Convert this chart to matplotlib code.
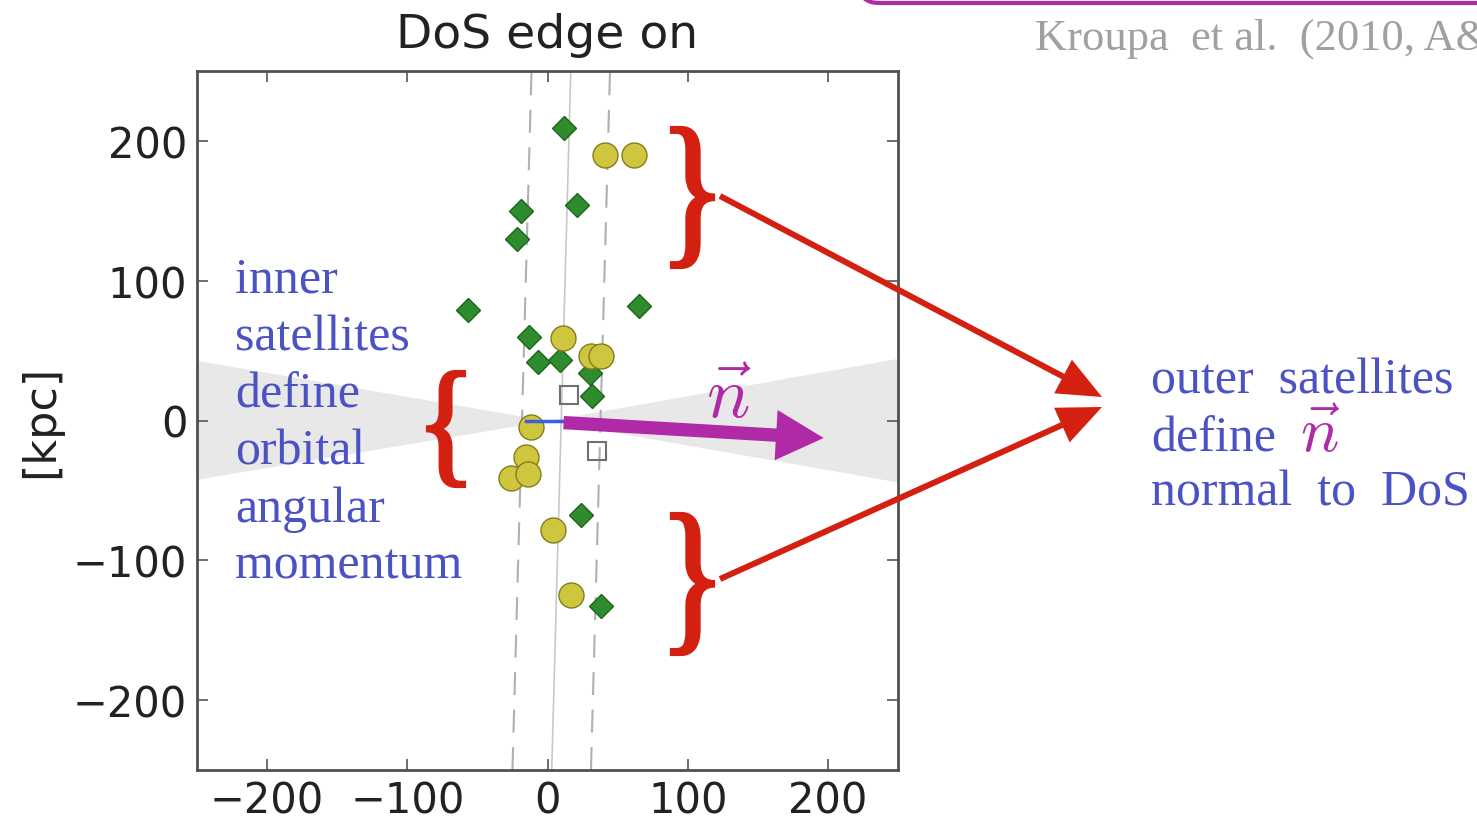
import matplotlib
matplotlib.use("Agg")
import numpy as np
import matplotlib.pyplot as plt
from matplotlib.patches import FancyArrow, FancyBboxPatch, PathPatch
from matplotlib.textpath import TextPath
from matplotlib.font_manager import FontProperties
from matplotlib.transforms import Affine2D

plt.rcParams["mathtext.fontset"] = "cm"

# satellite positions, edge-on view of the disc of satellites [kpc]
green_x = [12, -19, 21, -22, -57, 65, -13, -7, 9, 30, 32, 24, 38]
green_y = [209, 150, 154, 130, 79, 82, 60, 42, 43, 34, 17.5, -67.5, -133]
yellow_x = [41, 62, 11, 31, 38, -12, -15, -26, -14, 4, 17]
yellow_y = [190, 190, 59, 46, 46, -5, -26, -41, -38, -78, -125]
square_x = [15, 35]
square_y = [18, -22]

# best-fit plane (solid) and its rms height (dashed), x at y = -250 / +250
plane_y = [-250, 250]
plane_x = [3, 16.6]
plane_rms = 28

# obscured wedge around the galactic disc
wedge_x = [-250, 0, 250]
wedge_hi = [43, 0, 44.5]
wedge_lo = [-42, 0, -44]

# orbital pole of the inner satellites and the DoS normal
pole_x = [-15, 12]
pole_y = [-0.5, -0.5]
normal_start = (11.5, -1.5)
normal_end = (197, -12.5)

xticks = [-200, -100, 0, 100, 200]
yticks = [-200, -100, 0, 100, 200]

RED = "#d32011"
BLUE = "#4a52c4"
PURPLE = "#b02aa8"

fig = plt.figure(figsize=(14.77, 8.2), dpi=100)
ax = fig.add_axes([197 / 1477, 49 / 820, 701 / 1477, 699 / 820])

ax.fill_between(wedge_x, wedge_lo, wedge_hi, color="#e8e8e8", lw=0, zorder=0)
ax.plot(plane_x, plane_y, color="#c8c8c8", lw=1.2, zorder=1)
for s in (-1, 1):
    ax.plot([v + s * plane_rms for v in plane_x], plane_y, color="#b0b0b0",
            lw=1.5, ls=(0, (11, 7)), zorder=1)

ax.plot(green_x, green_y, "D", ms=12.5, mfc="#2e8b2e", mec="#1d641d",
        mew=1, ls="none", zorder=3)
ax.plot(yellow_x, yellow_y, "o", ms=18, mfc="#cfc63f", mec="#857d1c",
        mew=1, ls="none", zorder=3)
ax.plot(square_x, square_y, "s", ms=13, mfc="none", mec="#707070",
        mew=1.5, ls="none", zorder=3)
ax.plot(pole_x, pole_y, color="#3a5fe0", lw=2.5, zorder=4)

ax.add_patch(FancyArrow(normal_start[0], normal_start[1],
                        normal_end[0] - normal_start[0],
                        normal_end[1] - normal_start[1],
                        width=9.5, head_width=36, head_length=34,
                        length_includes_head=True, color=PURPLE, lw=0, zorder=5))

ax.set_xlim(-250, 250)
ax.set_ylim(-250, 250)
ax.set_xticks(xticks)
ax.set_yticks(yticks)
ax.tick_params(direction="in", length=8, width=1.2, top=True, right=True,
               labelsize=30, pad=7, color="#555555", labelcolor="#222222")
for sp in ax.spines.values():
    sp.set_linewidth(2)
    sp.set_color("#505050")
ax.set_title("DoS edge on", fontsize=34, pad=17, color="#222222")
ax.set_ylabel("[kpc]", fontsize=32, color="#222222")
ax.yaxis.set_label_coords(-0.193, 0.5)

# annotation layer in pixel coordinates (y downwards)
ov = fig.add_axes([0, 0, 1, 1], zorder=10)
ov.set_xlim(0, 1477)
ov.set_ylim(820, 0)
ov.axis("off")
ov.patch.set_alpha(0)

serif = FontProperties(family="Liberation Serif")


def brace(ch, x0, y0, x1, y1):
    tp = TextPath((0, 0), ch, size=100, prop=serif)
    ext = tp.get_extents()
    tr = (Affine2D().translate(-ext.x0, -ext.y1)
          .scale((x1 - x0) / ext.width, -(y1 - y0) / ext.height)
          .translate(x0, y0))
    ov.add_patch(PathPatch(tr.transform_path(tp), fc=RED, ec=RED, lw=3,
                           clip_on=False))


brace("{", 428, 373, 464, 487)
brace("}", 672, 129, 713, 268)
brace("}", 672, 515, 713, 655)

for x0, y0 in [(720, 197), (720, 580)]:
    ov.add_patch(FancyArrow(x0, y0, 1102 - x0, (398 if y0 < 400 else 408) - y0,
                            width=6, head_width=38, head_length=44,
                            length_includes_head=True, color=RED, lw=0,
                            clip_on=False))

inner = ["inner", "satellites", "define", "orbital", "angular", "momentum"]
for i, word in enumerate(inner):
    ov.text(235, 293 + 57.2 * i, word, fontsize=36, family="Liberation Serif",
            color=BLUE, va="baseline", ha="left")

ov.text(1151, 394, "outer  satellites", fontsize=36, family="Liberation Serif",
        color=BLUE, va="baseline")
ov.text(1151, 452, "define", fontsize=36, family="Liberation Serif",
        color=BLUE, va="baseline")
ov.text(1151, 506, "normal  to  DoS", fontsize=36, family="Liberation Serif",
        color=BLUE, va="baseline")
ov.text(1300, 452, r"$\vec{n}$", fontsize=46, color=PURPLE, va="baseline")
ov.text(728, 418, r"$\vec{n}$", fontsize=52, color=PURPLE, va="baseline",
        ha="center")

ov.text(1035, 50, "Kroupa  et al.  (2010, A&A)", fontsize=32,
        family="Liberation Serif", color="#a0a0a0", va="baseline")
ov.add_patch(FancyBboxPatch((859, -80), 700, 84,
                            boxstyle="round,pad=0,rounding_size=20",
                            fill=False, ec=PURPLE, lw=3, clip_on=False))

fig.savefig("out.png", dpi=100)
